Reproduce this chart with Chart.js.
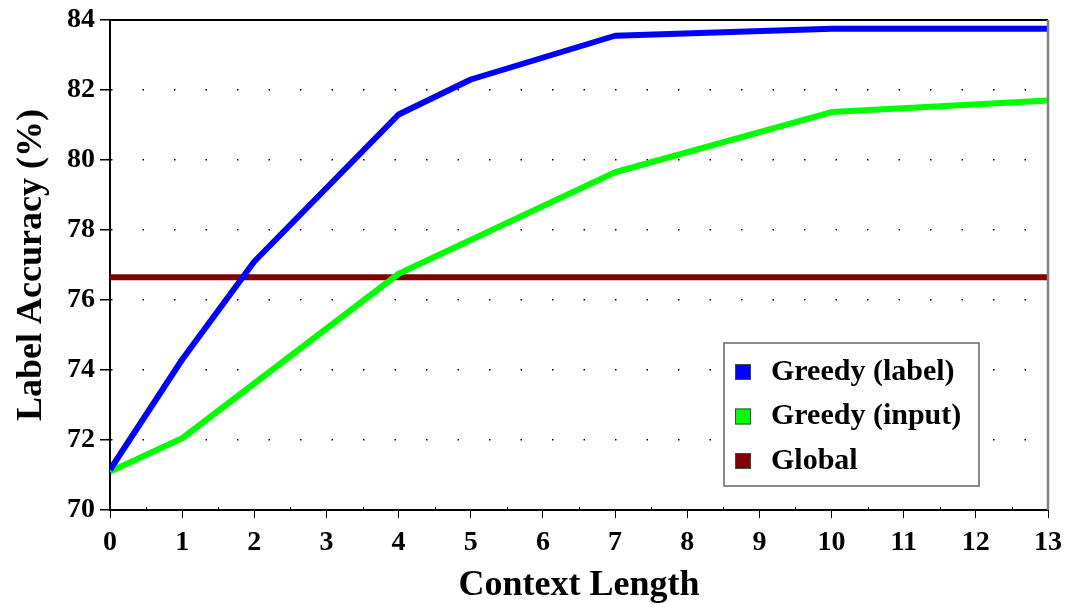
<!DOCTYPE html>
<html>
<head>
<meta charset="utf-8">
<script src="https://cdn.jsdelivr.net/npm/chart.js@4"></script>
<style>
  html, body { margin: 0; padding: 0; background: #fff; }
  #wrap { width: 1067px; height: 607px; }
</style>
</head>
<body>
<div id="wrap"><canvas id="chart"></canvas></div>
<script>
// context lengths where each series has a point
const labelLengths = [0, 1, 2, 4, 5, 7, 10, 13];
const labelAccuracy = [71.15, 74.3, 77.1, 81.3, 82.3, 83.55, 83.75, 83.75];

const inputLengths = [0, 1, 4, 7, 10, 13];
const inputAccuracy = [71.1, 72.05, 76.75, 79.65, 81.37, 81.7];

const globalLengths = [0, 13];
const globalAccuracy = [76.65, 76.65];

const seriesNames = ["Greedy (label)", "Greedy (input)", "Global"];
const seriesColors = ["#0000ff", "#00ff00", "#800000"];

const FONT = "'Liberation Serif', 'Times New Roman', serif";

function toPoints(xs, ys) {
    return xs.map((x, i) => ({ x: x, y: ys[i] }));
}

// frame lines (top black, right gray), small half-step ticks and the boxed legend
const framePlugin = {
    id: "frame",
    afterDatasetsDraw(chart) {
        const { ctx, chartArea: a } = chart;
        const xs = chart.scales.x;
        ctx.save();
        ctx.strokeStyle = "#000";
        ctx.lineWidth = 2;
        ctx.beginPath();
        ctx.moveTo(a.left, a.top);
        ctx.lineTo(a.right, a.top);
        ctx.stroke();

        ctx.lineWidth = 1;
        ctx.beginPath();
        for (let v = 0.5; v < 13; v += 1) {
            const px = Math.round(xs.getPixelForValue(v)) + 0.5;
            ctx.moveTo(px, a.bottom);
            ctx.lineTo(px, a.bottom - 3);
        }
        ctx.stroke();

        ctx.strokeStyle = "#808080";
        ctx.lineWidth = 2.5;
        ctx.beginPath();
        ctx.moveTo(a.right, a.top);
        ctx.lineTo(a.right, a.bottom);
        ctx.stroke();

        // legend
        const bx = 724, by = 343, bw = 255, bh = 143;
        ctx.fillStyle = "#fff";
        ctx.fillRect(bx, by, bw, bh);
        ctx.strokeStyle = "#666";
        ctx.lineWidth = 1.5;
        ctx.strokeRect(bx, by, bw, bh);
        ctx.font = "bold 30px " + FONT;
        ctx.textBaseline = "middle";
        seriesNames.forEach((name, i) => {
            const cy = 372 + i * 44.5;
            ctx.fillStyle = seriesColors[i];
            ctx.fillRect(735, cy - 8, 16, 16);
            ctx.strokeStyle = "#444";
            ctx.lineWidth = 1;
            ctx.strokeRect(735.5, cy - 7.5, 15, 15);
            ctx.fillStyle = "#000";
            ctx.fillText(name, 771, cy);
        });
        ctx.restore();
    }
};

new Chart(document.getElementById("chart"), {
    type: "line",
    data: {
        datasets: [
            {
                label: seriesNames[0],
                data: toPoints(labelLengths, labelAccuracy),
                borderColor: seriesColors[0],
            },
            {
                label: seriesNames[1],
                data: toPoints(inputLengths, inputAccuracy),
                borderColor: seriesColors[1],
            },
            {
                label: seriesNames[2],
                data: toPoints(globalLengths, globalAccuracy),
                borderColor: seriesColors[2],
            },
        ],
    },
    options: {
        responsive: true,
        maintainAspectRatio: false,
        animation: false,
        layout: { padding: { top: 20, right: 19, left: 0, bottom: 0 } },
        elements: {
            line: { borderWidth: 6, tension: 0, borderCapStyle: "butt", borderJoinStyle: "round" },
            point: { radius: 0 },
        },
        plugins: { legend: { display: false }, tooltip: { enabled: false } },
        scales: {
            x: {
                type: "linear",
                min: 0,
                max: 13,
                ticks: {
                    stepSize: 1,
                    color: "#000",
                    font: { family: FONT, size: 28, weight: "bold" },
                    padding: 8,
                    maxRotation: 0,
                },
                grid: { drawOnChartArea: false, color: "#000", tickLength: 8, lineWidth: 1 },
                border: { color: "#000", width: 2 },
                title: {
                    display: true,
                    text: "Context Length",
                    color: "#000",
                    font: { family: FONT, size: 36, weight: "bold" },
                    padding: { top: 0, bottom: 0 },
                },
                afterFit(scale) {
                    scale.height = 97;
                    scale.paddingLeft = 0;
                    scale.paddingRight = 0;
                },
            },
            y: {
                min: 70,
                max: 84,
                ticks: {
                    stepSize: 2,
                    color: "#000",
                    font: { family: FONT, size: 28, weight: "bold" },
                    padding: 5,
                },
                grid: {
                    color: (c) => (c.tick && (c.tick.value === 70 || c.tick.value === 84)) ? "rgba(0,0,0,0)" : "#000",
                    tickColor: "#000",
                    tickLength: 10,
                    lineWidth: 1.5,
                },
                border: { color: "#000", width: 2, dash: [1.5, 30] },
                title: {
                    display: true,
                    text: "Label Accuracy (%)",
                    color: "#000",
                    font: { family: FONT, size: 36, weight: "bold" },
                    padding: { top: 10, bottom: 0 },
                },
                afterFit(scale) {
                    scale.width = 110;
                    scale.paddingTop = 0;
                    scale.paddingBottom = 0;
                },
            },
        },
    },
    plugins: [framePlugin],
});
</script>
</body>
</html>
